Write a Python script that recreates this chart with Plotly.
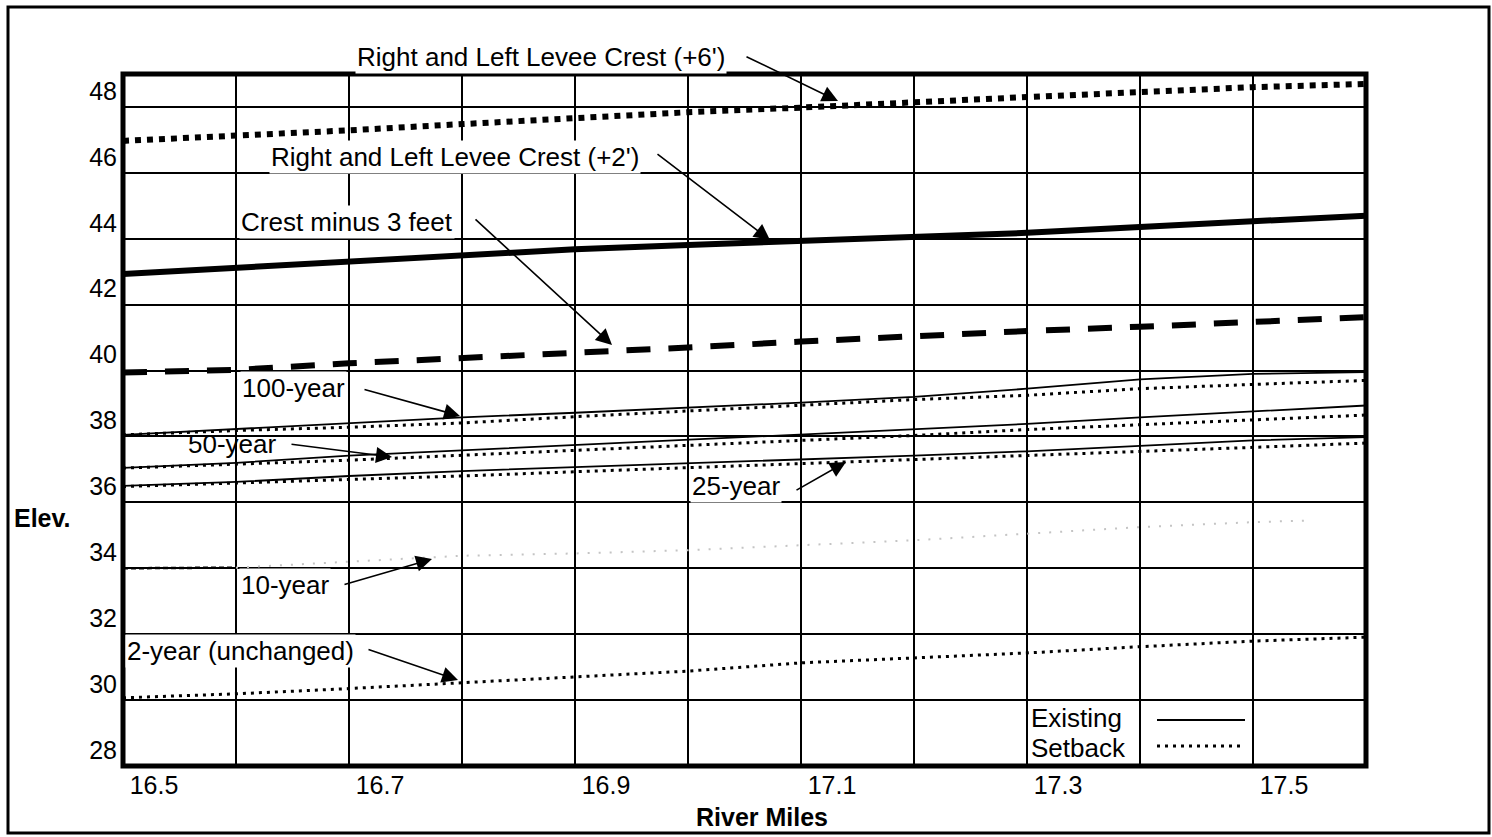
import plotly.graph_objects as go

# ---------------- data ----------------
miles = [16.5, 16.6, 16.7, 16.8, 16.9, 17.0, 17.1, 17.2, 17.3, 17.4, 17.5, 17.6]
crest_plus6 = [46.97, 47.12, 47.29, 47.48, 47.68, 47.84, 47.98, 48.16, 48.30, 48.45, 48.60, 48.70]
crest_plus2 = [42.93, 43.12, 43.33, 43.52, 43.68, 43.81, 43.93, 44.06, 44.18, 44.36, 44.54, 44.70]
crest_minus3 = [39.94, 40.02, 40.22, 40.37, 40.52, 40.70, 40.88, 41.05, 41.20, 41.33, 41.48, 41.62]
yr100_existing = [38.05, 38.22, 38.40, 38.58, 38.72, 38.87, 39.03, 39.20, 39.45, 39.73, 39.90, 39.95]
yr100_setback = [38.05, 38.18, 38.28, 38.41, 38.60, 38.77, 38.95, 39.12, 39.25, 39.45, 39.58, 39.70]
yr50_existing = [37.05, 37.20, 37.42, 37.58, 37.74, 37.90, 38.06, 38.20, 38.38, 38.58, 38.75, 38.94]
yr50_setback = [37.04, 37.16, 37.28, 37.43, 37.58, 37.73, 37.88, 38.03, 38.21, 38.36, 38.50, 38.65]
yr25_existing = [36.50, 36.62, 36.80, 36.95, 37.07, 37.18, 37.30, 37.42, 37.55, 37.71, 37.88, 37.98]
yr25_setback = [36.48, 36.58, 36.68, 36.80, 36.93, 37.05, 37.17, 37.30, 37.43, 37.55, 37.67, 37.80]
miles_10yr = [16.5, 16.6, 16.7, 16.8, 16.9, 17.0, 17.1, 17.2, 17.3, 17.4, 17.5, 17.55]
yr10 = [34.00, 34.02, 34.20, 34.38, 34.45, 34.55, 34.70, 34.85, 35.05, 35.25, 35.40, 35.45]
yr2 = [30.07, 30.19, 30.35, 30.52, 30.70, 30.88, 31.13, 31.28, 31.43, 31.62, 31.79, 31.91]

x_ticks = [16.5, 16.7, 16.9, 17.1, 17.3, 17.5]
y_ticks = [28, 30, 32, 34, 36, 38, 40, 42, 44, 46, 48]

# ---------------- layout geometry ----------------
W, H = 1492, 837
L, R, T, B = 123, 1366, 74, 766
XMIN, XMAX, YMIN, YMAX = 16.5, 17.6, 28, 49
FONT = "Arial, Liberation Sans, sans-serif"


def pxp(x):  # pixel -> paper x
    return (x - L) / (R - L)


def pyp(y):  # pixel -> paper y
    return (B - y) / (B - T)


def pxd(x):  # pixel -> data x
    return XMIN + (x - L) / (R - L) * (XMAX - XMIN)


def pyd(y):  # pixel -> data y
    return YMIN + (B - y) / (B - T) * (YMAX - YMIN)


fig = go.Figure()

SOLID_THIN = dict(color="black", width=1.8)
DOTS = dict(color="black", width=3, dash="3px,5px")

fig.add_trace(go.Scatter(x=miles, y=crest_plus6, mode="lines",
                         line=dict(color="black", width=6, dash="6px,6px")))
fig.add_trace(go.Scatter(x=miles, y=crest_plus2, mode="lines",
                         line=dict(color="black", width=6)))
fig.add_trace(go.Scatter(x=miles, y=crest_minus3, mode="lines",
                         line=dict(color="black", width=6, dash="24px,18px")))
for ex, sb in [(yr100_existing, yr100_setback), (yr50_existing, yr50_setback),
               (yr25_existing, yr25_setback)]:
    fig.add_trace(go.Scatter(x=miles, y=ex, mode="lines", line=SOLID_THIN))
    fig.add_trace(go.Scatter(x=miles, y=sb, mode="lines", line=DOTS))
# 10-year: strong at the start, faint (as in the scan) afterwards
fig.add_trace(go.Scatter(x=miles_10yr[1:], y=yr10[1:], mode="lines",
                         line=dict(color="#c4c4c4", width=2, dash="2px,9px")))
fig.add_trace(go.Scatter(x=miles_10yr[:2], y=yr10[:2], mode="lines",
                         line=dict(color="black", width=2.5, dash="5px,3px")))
fig.add_trace(go.Scatter(x=miles, y=yr2, mode="lines", line=DOTS))

grid = dict(showgrid=True, gridcolor="black", gridwidth=2, zeroline=False,
            showline=False, ticks="", tickfont=dict(family=FONT, size=25, color="black"))

fig.update_layout(
    width=W, height=H,
    margin=dict(l=L, r=W - R, t=T, b=H - B, pad=0),
    paper_bgcolor="white", plot_bgcolor="white",
    showlegend=False,
    font=dict(family=FONT, color="black"),
    xaxis=dict(range=[XMIN, XMAX], tickmode="array", tickvals=x_ticks,
               ticktext=[f"{v:.1f}" for v in x_ticks], ticklabelshift=31,
               ticklabelstandoff=2,
               minor=dict(tickmode="linear", tick0=16.5, dtick=0.1, showgrid=True,
                          gridcolor="black", gridwidth=2, ticks=""),
               **grid),
    yaxis=dict(range=[YMIN, YMAX], tickmode="array", tickvals=y_ticks,
               ticktext=[str(v) for v in y_ticks], ticklabelshift=-16,
               ticklabelstandoff=5, **grid),
)

# plot border and outer frame
fig.add_shape(type="rect", xref="paper", yref="paper", x0=0, x1=1, y0=0, y1=1,
              line=dict(color="black", width=5), layer="above")
fig.add_shape(type="rect", xref="paper", yref="paper",
              x0=pxp(8), x1=pxp(1489), y0=pyp(833), y1=pyp(7),
              line=dict(color="black", width=3), layer="above")

# legend samples
fig.add_shape(type="line", xref="paper", yref="paper", x0=pxp(1157), x1=pxp(1245),
              y0=pyp(720), y1=pyp(720), line=dict(color="black", width=2))
fig.add_shape(type="line", xref="paper", yref="paper", x0=pxp(1157), x1=pxp(1245),
              y0=pyp(746), y1=pyp(746), line=dict(color="black", width=3, dash="3px,5px"))


def label(text, xl, yc, bg="white", size=26, bold=False):
    fig.add_annotation(text=f"<b>{text}</b>" if bold else text,
                       xref="paper", yref="paper", x=pxp(xl), y=pyp(yc),
                       xanchor="left", yanchor="middle", showarrow=False,
                       font=dict(family=FONT, size=size, color="black"),
                       bgcolor=bg, borderpad=1)


label("Right and Left Levee Crest (+6')", 355, 57)
label("Right and Left Levee Crest (+2')", 269, 157)
label("Crest minus 3 feet", 239, 222)
label("100-year", 240, 388)
label("50-year", 186, 444, bg="rgba(0,0,0,0)")
label("25-year", 690, 486)
label("10-year", 239, 585)
label("2-year (unchanged)", 125, 651)
label("Existing", 1029, 718, bg="rgba(0,0,0,0)")
label("Setback", 1029, 748, bg="rgba(0,0,0,0)")
label("Elev.", 12, 518, bg="rgba(0,0,0,0)", bold=True, size=25)
fig.add_annotation(text="<b>River Miles</b>", xref="paper", yref="paper",
                   x=pxp(762), y=pyp(817), xanchor="center", yanchor="middle",
                   showarrow=False, font=dict(family=FONT, size=25, color="black"))


def arrow(tail, head):
    fig.add_annotation(text="", x=pxd(head[0]), y=pyd(head[1]), xref="x", yref="y",
                       ax=tail[0] - head[0], ay=tail[1] - head[1],
                       showarrow=True, arrowhead=2, arrowsize=2, arrowwidth=1.6,
                       arrowcolor="black")


arrow((745, 56), (838, 101))
arrow((656, 153), (770, 240))
arrow((474, 218), (612, 345))
arrow((363, 389), (460, 416))
arrow((290, 444), (392, 457))
arrow((795, 491), (846, 462))
arrow((343, 585), (432, 559))
arrow((367, 649), (458, 680))

fig.write_html("out.html")
